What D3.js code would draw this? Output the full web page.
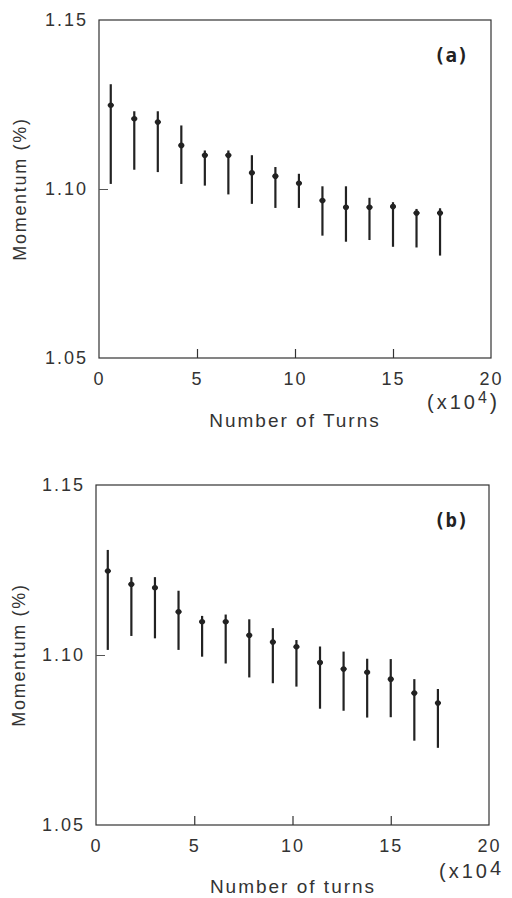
<!DOCTYPE html>
<html>
<head>
<meta charset="utf-8">
<script src="https://cdn.jsdelivr.net/npm/d3@7"></script>
<style>
  html, body { margin: 0; padding: 0; background: #fff; }
  svg { display: block; }
  .tick text { font-family: "Liberation Sans", Arial, sans-serif; font-size: 18px; fill: #333; letter-spacing: 2px; }
  .lbl { font-family: "Liberation Sans", Arial, sans-serif; fill: #333; }
</style>
</head>
<body>
<script>
// ---- data ----
const turns = [0.6, 1.8, 3.0, 4.2, 5.4, 6.6, 7.8, 9.0, 10.2, 11.4, 12.6, 13.8, 15.0, 16.2, 17.4];

const momentumA = [1.1248, 1.1208, 1.1198, 1.1129, 1.1100, 1.1100, 1.1048, 1.1038, 1.1017, 1.0966, 1.0946, 1.0946, 1.0948, 1.0929, 1.0929];
const upperA    = [1.1310, 1.1230, 1.1230, 1.1188, 1.1114, 1.1114, 1.1100, 1.1065, 1.1045, 1.1008, 1.1008, 1.0974, 1.0961, 1.0941, 1.0943];
const lowerA    = [1.1015, 1.1057, 1.1050, 1.1015, 1.1010, 1.0984, 1.0956, 1.0944, 1.0944, 1.0862, 1.0844, 1.0849, 1.0829, 1.0827, 1.0803];

const momentumB = [1.1247, 1.1208, 1.1198, 1.1127, 1.1098, 1.1098, 1.1058, 1.1038, 1.1024, 1.0978, 1.0959, 1.0949, 1.0929, 1.0888, 1.0859];
const upperB    = [1.1309, 1.1229, 1.1229, 1.1189, 1.1115, 1.1119, 1.1105, 1.1079, 1.1044, 1.1025, 1.1010, 1.0989, 1.0988, 1.0929, 1.0900];
const lowerB    = [1.1015, 1.1056, 1.1049, 1.1015, 1.0995, 1.0975, 1.0934, 1.0917, 1.0907, 1.0842, 1.0836, 1.0816, 1.0817, 1.0748, 1.0727];

const xTicks = [0, 5, 10, 15, 20];
const yTicks = [1.05, 1.10, 1.15];
const xDomain = [0, 20];
const yDomain = [1.05, 1.15];
const yTitle = "Momentum (%)";

const svg = d3.select("body").append("svg").attr("width", 512).attr("height", 898);

function panel(opt) {
  const x = d3.scaleLinear().domain(xDomain).range([opt.left, opt.right]);
  const y = d3.scaleLinear().domain(yDomain).range([opt.bottom, opt.top]);
  const g = svg.append("g");
  const ink = "#222";

  g.append("rect")
    .attr("x", opt.left).attr("y", opt.top)
    .attr("width", opt.right - opt.left).attr("height", opt.bottom - opt.top)
    .attr("fill", "none").attr("stroke", "#333").attr("stroke-width", 1.2);

  const xa = g.append("g").attr("transform", `translate(0,${opt.bottom})`)
    .call(d3.axisBottom(x).tickValues(xTicks).tickFormat(d3.format("d")).tickSizeInner(-9).tickSizeOuter(0).tickPadding(14));
  xa.select(".domain").remove();
  xa.selectAll(".tick line").attr("stroke", "#333").attr("stroke-width", 1.2)
    .attr("display", d => (d === 0 || d === 20) ? "none" : null);

  const ya = g.append("g").attr("transform", `translate(${opt.left},0)`)
    .call(d3.axisLeft(y).tickValues(yTicks).tickFormat(d3.format(".2f")).tickSizeInner(-9).tickSizeOuter(0).tickPadding(11));
  ya.select(".domain").remove();
  ya.selectAll(".tick line").attr("stroke", "#555").attr("stroke-width", 1)
    .attr("display", d => (d === 1.05 || d === 1.15) ? "none" : null);

  g.selectAll("line.err").data(turns).join("line").attr("class", "err")
    .attr("x1", d => x(d)).attr("x2", d => x(d))
    .attr("y1", (d, i) => y(opt.upper[i])).attr("y2", (d, i) => y(opt.lower[i]))
    .attr("stroke", ink).attr("stroke-width", 2.2);

  g.selectAll("line.cap").data(turns).join("line").attr("class", "cap")
    .attr("x1", d => x(d) - 3).attr("x2", d => x(d) + 3)
    .attr("y1", (d, i) => y(opt.values[i])).attr("y2", (d, i) => y(opt.values[i]))
    .attr("stroke", ink).attr("stroke-width", 2);

  g.selectAll("circle.pt").data(turns).join("circle").attr("class", "pt")
    .attr("cx", d => x(d)).attr("cy", (d, i) => y(opt.values[i]))
    .attr("r", 2.8).attr("fill", ink);

  g.append("text").attr("x", opt.tagX).attr("y", opt.tagY)
    .attr("font-family", "DejaVu Sans Mono, monospace").attr("font-weight", "bold")
    .attr("font-size", 19).attr("fill", "#222").text(opt.tag);

  g.append("text").attr("class", "lbl")
    .attr("transform", `translate(${opt.yTitleX},${(opt.top + opt.bottom) / 2}) rotate(-90)`)
    .attr("text-anchor", "middle").attr("font-size", 18).attr("letter-spacing", 1.7)
    .text(yTitle);

  g.append("text").attr("class", "lbl")
    .attr("x", opt.xTitleX).attr("y", opt.xTitleY)
    .attr("text-anchor", "middle").attr("font-size", 19).attr("letter-spacing", 2)
    .text(opt.xTitle);

  const m = g.append("text").attr("class", "lbl")
    .attr("x", opt.multX).attr("y", opt.multY)
    .attr("font-size", 20).attr("letter-spacing", 3);
  m.append("tspan").text("(x10");
  m.append("tspan").attr("dy", opt.supDy).attr("font-size", opt.supSize).text("4");
  if (opt.closeParen) m.append("tspan").attr("dy", -opt.supDy).attr("font-size", 22).text(")");
}

panel({
  left: 99, right: 491, top: 20, bottom: 358,
  values: momentumA, upper: upperA, lower: lowerA,
  tag: "(a)", tagX: 434, tagY: 62,
  yTitleX: 26, xTitle: "Number of Turns", xTitleX: 295, xTitleY: 427,
  multX: 427, multY: 409, supDy: -6, supSize: 16, closeParen: true
});

panel({
  left: 96, right: 489, top: 485, bottom: 825,
  values: momentumB, upper: upperB, lower: lowerB,
  tag: "(b)", tagX: 434, tagY: 527,
  yTitleX: 25, xTitle: "Number of turns", xTitleX: 293, xTitleY: 893,
  multX: 439, multY: 878, supDy: -3, supSize: 20, closeParen: false
});
</script>
</body>
</html>
